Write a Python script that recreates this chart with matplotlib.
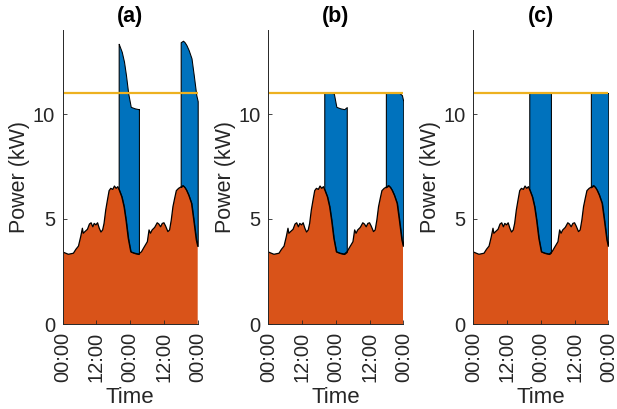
import matplotlib
matplotlib.use('Agg')
import matplotlib.pyplot as plt
import numpy as np

plt.rcParams['font.family'] = ['Liberation Sans', 'DejaVu Sans']

# Household base load (kW) over two days, time in hours from 00:00
t_base = [0, 2.0, 3.8, 4.7, 5.6, 6.4, 7.0, 7.3, 7.9, 8.8, 9.5, 10.1, 10.7, 11.2, 11.8,
          12.4, 13.0, 13.6, 14.2, 14.7, 15.3, 15.9, 16.5, 17.1, 17.8, 18.4, 19.0, 19.6,
          20.1, 21.0, 21.8, 22.5, 23.3, 24.2, 25.6, 27.0, 28.0, 28.9, 30.1, 30.7, 31.2,
          31.8, 32.7, 33.6, 34.2, 34.8, 35.4, 36.0, 36.6, 37.4, 38.0, 38.6, 39.2, 39.8,
          40.4, 41.2, 42.2, 42.8, 43.4, 44.0, 44.8, 45.8, 46.6, 47.5, 48.0]
p_base = [3.43, 3.32, 3.37, 3.56, 3.71, 4.16, 4.56, 4.32, 4.40, 4.51, 4.76, 4.82, 4.63,
          4.79, 4.72, 4.82, 4.56, 4.38, 4.48, 4.79, 5.43, 5.90, 6.35, 6.46, 6.41, 6.57,
          6.46, 6.54, 6.38, 6.06, 5.59, 4.95, 4.08, 3.44, 3.37, 3.33, 3.44, 3.65, 3.92,
          4.48, 4.32, 4.48, 4.60, 4.82, 4.76, 4.63, 4.79, 4.82, 4.66, 4.40, 4.48, 4.95,
          5.59, 5.98, 6.35, 6.46, 6.54, 6.59, 6.51, 6.38, 6.14, 5.75, 4.95, 4.00, 3.71]

ev_rate = 6.9      # kW, uncontrolled charging power
p_limit = 11.0     # kW, grid limit
titles = ['(a)', '(b)', '(c)']
modes = ['uncontrolled', 'capped', 'fill']
ev_windows = [[(19.9, 27.1), (41.95, 48.0)],
              [(19.9, 27.9), (41.8, 48.0)],
              [(19.9, 27.6), (41.8, 48.0)]]
xticks = [0, 12, 24, 36, 48]
xticklabels = ['00:00', '12:00', '00:00', '12:00', '00:00']

blue = '#0072BD'
orange = '#D95319'
yellow = '#EDB120'
axc = '#262626'

fig = plt.figure(figsize=(6.17, 4.09), dpi=100)
lefts = [62.7, 268.3, 473.3]
t_base = np.array(t_base)
p_base = np.array(p_base)

for i in range(3):
    ax = fig.add_axes([lefts[i] / 617, 85 / 409, 135 / 617, 294 / 409])
    ax.fill_between(t_base, 0, p_base, facecolor=orange, edgecolor='none', zorder=1)
    for (s, e) in ev_windows[i]:
        inside = (t_base > s) & (t_base < e)
        ts = np.concatenate([[s], t_base[inside], [e]])
        bs = np.interp(ts, t_base, p_base)
        if modes[i] == 'uncontrolled':
            top = bs + ev_rate
        elif modes[i] == 'capped':
            top = np.minimum(bs + ev_rate, p_limit)
        else:
            top = np.full_like(bs, p_limit)
        ax.fill_between(ts, bs, top, facecolor=blue, edgecolor='black',
                        linewidth=0.75, zorder=2)
    ax.plot(t_base, p_base, color='black', linewidth=0.9, zorder=3)
    ax.axhline(p_limit, color=yellow, linewidth=1.6, zorder=4)

    ax.set_xlim(0, 48)
    ax.set_ylim(0, 14)
    ax.set_yticks([0, 5, 10])
    ax.set_xticks(xticks)
    ax.set_xticklabels(xticklabels, rotation=90)
    ax.tick_params(direction='in', length=3, width=0.6, colors=axc, labelsize=14.5, pad=5.5)
    for sp in ['top', 'right']:
        ax.spines[sp].set_visible(False)
    for sp in ['left', 'bottom']:
        ax.spines[sp].set_color(axc)
        ax.spines[sp].set_linewidth(0.7)
        ax.spines[sp].set_zorder(5)
    ax.set_xlabel('Time', fontsize=16, color=axc, labelpad=3.5)
    ax.set_ylabel('Power (kW)', fontsize=15.5, color=axc, labelpad=2)
    ax.set_title(titles[i], fontsize=15.5, fontweight='bold', pad=6)

fig.savefig('out.png', dpi=100)
